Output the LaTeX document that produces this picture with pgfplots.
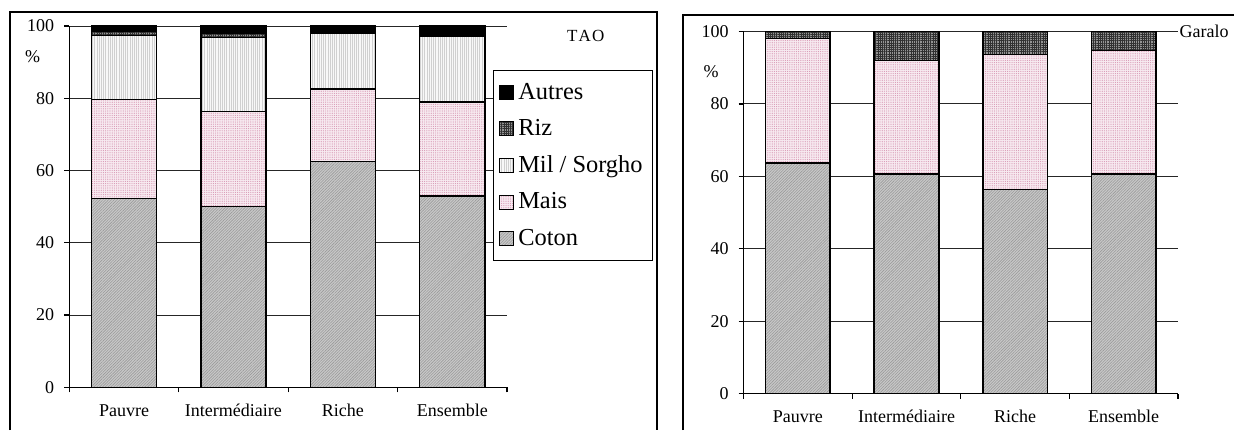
\documentclass[border=0pt]{standalone}
\usepackage{fontspec}
\setmainfont{Liberation Serif}
\usepackage{pgfplots}
\pgfplotsset{compat=1.18}
\usetikzlibrary{patterns.meta}

\definecolor{cotonbg}{HTML}{C8C8C8}
\definecolor{cotonln}{HTML}{9A9A9A}
\definecolor{maisbg}{HTML}{F7EAF0}
\definecolor{maisln}{HTML}{D898B4}
\definecolor{milbg}{HTML}{F8F8F8}
\definecolor{milln}{HTML}{D0D0D0}
\definecolor{rizbg}{HTML}{949494}
\definecolor{rizln}{HTML}{303030}

% crop shares (%) by wealth class
\pgfplotstableread{
x  coton mais mil  riz autres
0  52.2  27.4 17.8 1.1 1.5
1  50.0  26.4 20.4 1.1 2.1
2  62.5  20.1 15.4 0.0 2.0
3  53.0  26.0 18.3 0.5 2.2
}\tao
\pgfplotstableread{
x  coton mais riz
0  63.7  34.4 1.9
1  60.7  31.3 8.0
2  56.3  37.4 6.3
3  60.7  34.1 5.2
}\garalo

\pgfplotsset{
  cropbar/.style={draw=black, line width=0.75pt},
  coton/.style={cropbar, fill=cotonbg,
    postaction={pattern={Lines[angle=45,distance=1pt,line width=0.3pt]}, pattern color=cotonln}},
  mais/.style={cropbar, fill=maisbg,
    postaction={pattern={Dots[radius=0.3pt,distance=1.1pt]}, pattern color=maisln}},
  mil/.style={cropbar, fill=milbg,
    postaction={pattern={Lines[angle=90,distance=1.1pt,line width=0.3pt]}, pattern color=milln}},
  riz/.style={cropbar, fill=rizbg,
    postaction={pattern={Hatch[angle=0,distance=1.1pt,line width=0.3pt]}, pattern color=rizln}},
  autres/.style={cropbar, fill=black},
  panel/.style={
    scale only axis,
    ybar stacked,
    bar width=0.595,
    clip=false,
    xmin=-0.5, xmax=3.5,
    ymin=0, ymax=100,
    ytick={0,20,...,100},
    xtick={-0.5,0.5,1.5,2.5,3.5},
    xticklabels={},
    extra x ticks={0,1,2,3},
    extra x tick labels={Pauvre,Intermédiaire,Riche,Ensemble},
    extra x tick style={major tick length=0pt, grid=none,
      xticklabel style={anchor=base, yshift=-14.7pt}},
    axis lines*=left,
    axis line style={black, line width=0.6pt},
    tick style={black, line width=0.6pt},
    tick align=outside,
    major tick length=2.5pt,
    ymajorgrids,
    major grid style={black!85, line width=0.5pt},
    tick label style={font=\fontsize{9}{10}\selectfont},
    yticklabel style={xshift=-1.5pt},
    /pgf/number format/assume math mode=true,
    legend image code/.code={\draw[##1, line width=0.4pt] (0pt,-3.5pt) rectangle (7pt,3.5pt);},
  },
}

\begin{document}
\begin{tikzpicture}
\useasboundingbox (0pt,0pt) rectangle (617pt,-215pt);

% panel frames
\draw[line width=0.9pt] (5pt,-215pt) -- (5pt,-6pt) -- (328.5pt,-6pt) -- (328.5pt,-215pt);
\draw[line width=0.9pt] (341.5pt,-215pt) -- (341.5pt,-7.5pt) -- (617pt,-7.5pt);

% TAO
\begin{axis}[panel,
  at={(34.65pt,-193.65pt)}, anchor=south west,
  width=218.85pt, height=180.65pt,
  reverse legend,
  legend style={at={(0.968,0.878)}, anchor=north west,
    draw=black, line width=0.5pt,
    font=\fontsize{12.2}{14}\selectfont,
    row sep=4.6pt, inner xsep=3pt, inner ysep=4.2pt,
    cells={anchor=west}},
]
\addplot[coton]  table[x=x, y=coton]  {\tao};
\addplot[mais]   table[x=x, y=mais]   {\tao};
\addplot[mil]    table[x=x, y=mil]    {\tao};
\addplot[riz]    table[x=x, y=riz]    {\tao};
\addplot[autres] table[x=x, y=autres] {\tao};
\legend{Coton, Mais, Mil / Sorgho, Riz, Autres}
\node[font=\fontsize{8.5}{10}\selectfont] at (rel axis cs:1.18,0.972) {T\kern0.6pt A\kern0.6pt O};
\node[font=\fontsize{9}{10}\selectfont] at (rel axis cs:-0.084,0.914) {\%};
\end{axis}

% Garalo
\begin{axis}[panel,
  at={(371.8pt,-196.75pt)}, anchor=south west,
  width=217.2pt, height=181pt,
]
\addplot[coton] table[x=x, y=coton] {\garalo};
\addplot[mais]  table[x=x, y=mais]  {\garalo};
\addplot[riz]   table[x=x, y=riz]   {\garalo};
\node[font=\fontsize{9}{10}\selectfont, anchor=west, inner xsep=0.6pt] at (rel axis cs:1,1) {Garalo};
\node[font=\fontsize{9}{10}\selectfont] at (rel axis cs:-0.075,0.888) {\%};
\end{axis}
\end{tikzpicture}
\end{document}
